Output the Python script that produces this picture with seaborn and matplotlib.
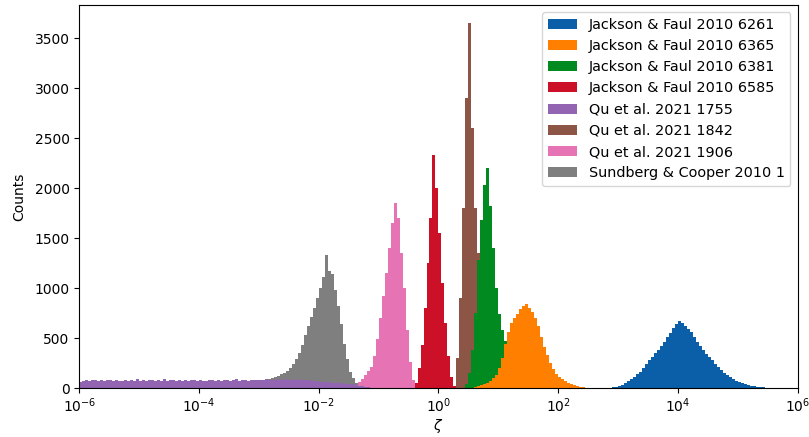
import numpy as np
import pandas as pd
import matplotlib
matplotlib.use("Agg")
import matplotlib.pyplot as plt
import seaborn as sns
from matplotlib.ticker import NullLocator

# =========================
# Data (bin heights on a 0.05-decade grid)
# =========================
STEP = 0.05  # bin width in log10(zeta)

LABELS = [
    "Jackson & Faul 2010 6261",
    "Jackson & Faul 2010 6365",
    "Jackson & Faul 2010 6381",
    "Jackson & Faul 2010 6585",
    "Qu et al. 2021 1755",
    "Qu et al. 2021 1842",
    "Qu et al. 2021 1906",
    "Sundberg & Cooper 2010 1",
]

# log10 of the first bin centre for every sample
START = [2.775, 0.575, 0.425, -0.425, -6.475, 0.275, -1.425, -3.025]

counts_6261 = [2, 3, 4, 6, 12, 22, 35, 55, 75, 92, 115, 140, 165, 200, 240, 280,
               315, 350, 385, 420, 460, 510, 555, 600, 640, 670, 650, 620, 590,
               560, 510, 460, 425, 385, 345, 315, 280, 245, 215, 185, 155, 128,
               110, 92, 75, 62, 50, 40, 32, 24, 18, 12, 9, 6, 4, 2, 1]
counts_6365 = [5, 10, 18, 28, 40, 55, 75, 100, 135, 200, 300, 440, 560, 650,
               700, 745, 790, 825, 845, 800, 760, 700, 620, 510, 410, 330, 250,
               195, 145, 112, 90, 68, 50, 36, 26, 18, 13, 8, 5, 3, 2]
counts_6381 = [5, 40, 150, 380, 750, 1280, 1680, 2030, 2200, 1820, 1400, 1000,
               740, 580, 470, 380, 290, 220, 160, 110, 75, 50, 30, 18, 10, 5]
counts_6585 = [5, 50, 200, 430, 800, 1250, 1700, 2330, 2000, 1550, 1050, 650,
               320, 110, 25, 5]
counts_1755 = [70, 78, 65, 82, 74, 68, 80, 72, 66, 76,
               62, 74, 80, 70, 85, 76, 68, 79, 73, 81,
               77, 70, 84, 75, 69, 82, 74, 78, 71, 86,
               73, 80, 68, 77, 83, 71, 79, 75, 88, 72,
               76, 81, 70, 78, 74, 85, 72, 79, 77, 73,
               80, 74, 69, 83, 76, 72, 81, 75, 78, 84,
               71, 79, 86, 74, 77, 82, 73, 80, 85, 78,
               83, 76, 88, 80, 85, 79, 90, 84, 82, 87,
               85, 80, 88, 82, 78, 84, 76, 72, 70, 66,
               64, 60, 62, 58, 55, 52, 50, 47, 45, 42,
               40, 36, 30, 24, 18, 12, 8, 5, 2]
counts_1842 = [5, 300, 900, 1800, 2900, 3650, 2600, 1800, 1350, 1000, 550, 260,
               100, 40, 10]
counts_1906 = [15, 35, 60, 90, 130, 170, 210, 320, 490, 700, 920, 1150, 1400,
               1650, 1850, 1700, 1350, 1000, 580, 260, 80, 10]
counts_1 = [40, 55, 65, 80, 90, 100, 110, 125, 140, 155, 175, 200, 240, 290,
            350, 430, 530, 620, 710, 800, 900, 1000, 1110, 1330, 1170, 1140,
            980, 820, 640, 440, 290, 160, 100, 50, 20, 6]

COUNTS = [counts_6261, counts_6365, counts_6381, counts_6585,
          counts_1755, counts_1842, counts_1906, counts_1]

COLORS = ["#0b5fa8", "#ff7f00", "#008a1f", "#cc1027",
          "#9264b2", "#8c5546", "#e673b4", "#7f7f7f"]

XTICKS = [1e-6, 1e-4, 1e-2, 1e0, 1e2, 1e4, 1e6]


def build_frame():
    rows = []
    for label, start, counts in zip(LABELS, START, COUNTS):
        logz = start + STEP * np.arange(len(counts))
        rows.append(pd.DataFrame({"zeta": 10.0 ** logz,
                                  "count": counts,
                                  "source": label}))
    return pd.concat(rows, ignore_index=True)


def main():
    df = build_frame()
    # bin edges in log10 space (seaborn bins the log-transformed values)
    edges = np.linspace(-6.5, 6.0, 251).tolist()

    fig, ax = plt.subplots(figsize=(8.09, 4.37), dpi=100)
    fig.subplots_adjust(left=0.098, right=0.986, top=0.989, bottom=0.112)

    sns.histplot(
        data=df, x="zeta", weights="count", hue="source",
        hue_order=LABELS, palette=dict(zip(LABELS, COLORS)),
        bins=edges, log_scale=True, element="step", fill=True,
        alpha=1, linewidth=0, multiple="layer", ax=ax,
    )

    ax.set_xlim(1e-6, 1e6)
    ax.set_ylim(bottom=0)
    ax.set_xticks(XTICKS)
    ax.xaxis.set_minor_locator(NullLocator())
    ax.tick_params(axis="x", pad=2.6)
    ax.set_xlabel(r"$\zeta$", labelpad=1)
    ax.set_ylabel("Counts", labelpad=6)

    sns.move_legend(ax, "upper right", title=None, fontsize=10.4)

    fig.savefig("out.png", dpi=100)
    plt.close(fig)


if __name__ == "__main__":
    main()
